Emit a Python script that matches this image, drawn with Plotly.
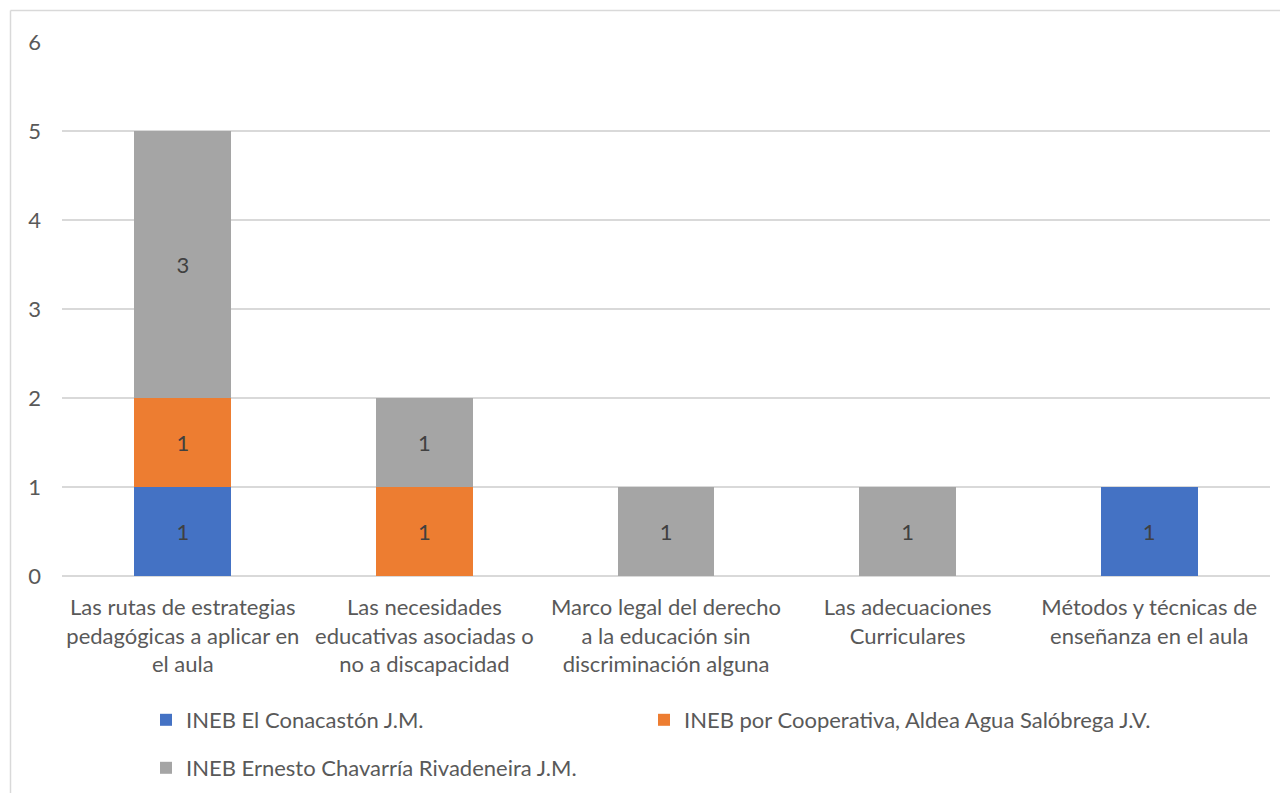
import plotly.graph_objects as go

categories = [
    "Las rutas de estrategias<br>pedagógicas a aplicar en<br>el aula",
    "Las necesidades<br>educativas asociadas o<br>no a discapacidad",
    "Marco legal del derecho<br>a la educación sin<br>discriminación alguna",
    "Las adecuaciones<br>Curriculares",
    "Métodos y técnicas de<br>enseñanza en el aula",
]
series_names = [
    "INEB El Conacastón J.M.",
    "INEB por Cooperativa, Aldea Agua Salóbrega J.V.",
    "INEB Ernesto Chavarría Rivadeneira J.M.",
]
conacaston = [1, None, None, None, 1]
cooperativa = [1, 1, None, None, None]
chavarria = [3, 1, 1, 1, None]
colors = ["#4472C4", "#ED7D31", "#A5A5A5"]
legend_ids = ["legend", "legend3", "legend2"]

FONT = "Lato, 'Open Sans', sans-serif"
FS = 22
fig = go.Figure()
for name, vals, col, lg in zip(series_names, [conacaston, cooperativa, chavarria], colors, legend_ids):
    fig.add_trace(go.Bar(
        x=categories, y=vals, name=name, marker_color=col,
        marker_line_width=0, legend=lg,
        text=[("" if v is None else str(v)) for v in vals],
        textposition="inside", insidetextanchor="middle",
        textfont=dict(color="#404040", size=FS, family=FONT),
    ))

# figure is offset 8px by the page body margin
W, H = 1280, 785
L, R, T, B = 54, 18, 34, 217
pw, ph = W - L - R, H - T - B
def px(x): return (x - L) / pw
def py(y): return (H - B - y) / ph
def cx(x): return x / W
def cy(y): return 1 - y / H

legfont = dict(size=FS, color="#595959", family=FONT)
def leg(x, y):
    return dict(orientation="h", xref="container", yref="container",
                x=cx(x), xanchor="left", y=cy(y), yanchor="middle",
                font=legfont, bgcolor="rgba(0,0,0,0)")

fig.update_layout(
    width=W, height=H, barmode="stack", bargap=0.6,
    margin=dict(l=L, r=R, t=T, b=B),
    plot_bgcolor="white", paper_bgcolor="white",
    font=dict(family=FONT, size=FS, color="#595959"),
    xaxis=dict(showgrid=False, showline=False, ticks="", tickfont=dict(size=FS, color="#595959"),
               tickangle=0, ticklabelstandoff=16),
    yaxis=dict(range=[0, 6], dtick=1, showgrid=True, gridcolor="#D9D9D9", gridwidth=1.5,
               zeroline=True, zerolinecolor="#D9D9D9", zerolinewidth=1.5,
               ticks="", tickfont=dict(size=FS, color="#595959"), ticklabelstandoff=20),
    showlegend=True,
    legend=leg(138, 712),
    legend3=leg(636, 712),
    legend2=leg(138, 760),
    shapes=[dict(type="line", xref="paper", yref="paper", x0=px(2.5), x1=px(1300),
                 y0=py(2.5), y1=py(2.5), line=dict(color="#D9D9D9", width=1.5)),
            dict(type="line", xref="paper", yref="paper", x0=px(2.5), x1=px(2.5),
                 y0=py(2.5), y1=py(800), line=dict(color="#D9D9D9", width=1.5))],
)
fig.write_html("out.html")
